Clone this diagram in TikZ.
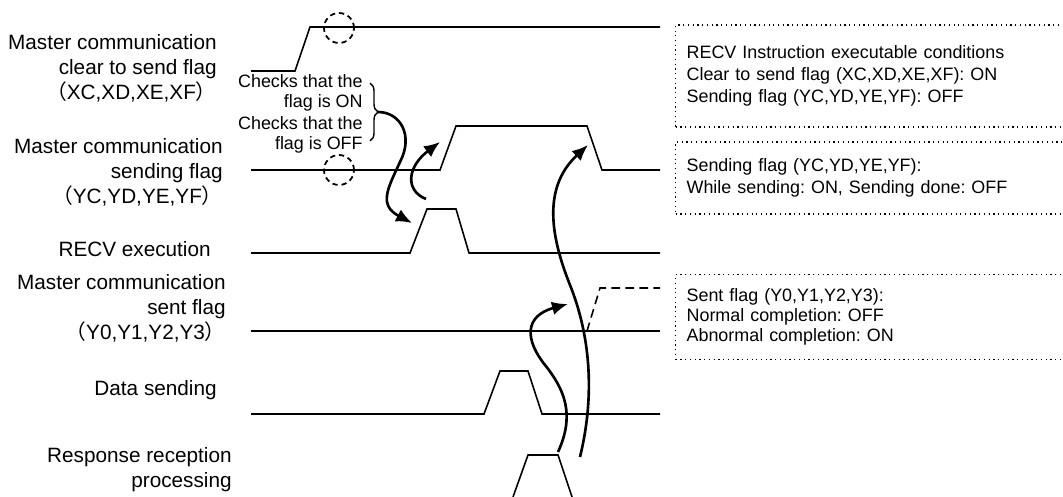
\documentclass[tikz,border=0pt]{standalone}
\usepackage{fontspec}
\setmainfont{Liberation Sans}
\newfontfamily\cjk{Noto Sans CJK JP}
\usetikzlibrary{arrows.meta, positioning, decorations.pathreplacing}
\frenchspacing

\begin{document}
\begin{tikzpicture}[
    x=0.02cm, y=-0.02cm,
    >={Latex[length=0.32cm, width=0.27cm]},
    signal/.style={line width=0.9pt},
    flow/.style={->, line width=1.5pt},
    label/.style={anchor=east, align=right, inner sep=0pt, font=\fontsize{11.8}{14.2}\selectfont},
    check/.style={anchor=east, align=right, inner sep=0pt, font=\fontsize{10.2}{11.4}\selectfont},
    note/.style={draw, dotted, line width=0.7pt, anchor=west, align=left, text width=7.5cm,
        inner xsep=0.22cm, font=\fontsize{10.2}{12.5}\selectfont},
    probe/.style={draw, circle, dashed, dash pattern=on 3pt off 2.2pt, line width=1pt, minimum size=0.6cm, inner sep=0pt}
]
\useasboundingbox (0,0) rectangle (1063,497);
\clip (0,0) rectangle (1063,497);

% signal names
\node[label] (cts) at (217,68) {Master communication\\clear to send flag\\{\cjk （}XC,XD,XE,XF{\cjk ）}};
\node[label] (sending) at (223,172) {Master communication\\sending flag\\{\cjk （}YC,YD,YE,YF{\cjk ）}};
\node[label] (recv) at (211,249) {RECV execution};
\node[label] (sent) at (226,308) {Master communication\\sent flag\\{\cjk （}Y0,Y1,Y2,Y3{\cjk ）}};
\node[label] (data) at (217,390) {Data sending};
\node[label] (resp) at (232,470) {Response reception\\processing};

% waveforms
\draw[signal] (251,71) -- (295,71) -- (310,27) -- (660,27);
\draw[signal] (251,170) -- (440,170) -- (456,126) -- (587,126) -- (602,170) -- (660,170);
\draw[signal] (251,253) -- (410,253) -- (427,209) -- (456,209) -- (469,253) -- (660,253);
\draw[signal] (251,331) -- (660,331);
\draw[signal, dashed, dash pattern=on 5pt off 3pt] (587,331) -- (600,288) -- (660,288);
\draw[signal] (251,414) -- (484,414) -- (500,371) -- (528,371) -- (542,414) -- (660,414);
\draw[signal] (513,497) -- (528,455) -- (558,455) -- (572,497);

% flag checks
\node[probe] (probeon) at (339,28) {};
\node[probe] (probeoff) at (339,170) {};
\node[check] (chkon) at (363,93) {Checks that the\\flag is ON};
\node[check, below=0.08cm of chkon.south east, anchor=north east] (chkoff) {Checks that the\\flag is OFF};
\coordinate (bracetop) at (370,83);
\coordinate (bracebot) at (370,141);
\coordinate (cusp) at (378,112);
\draw[line width=0.8pt, decorate, decoration={brace, amplitude=0.16cm}] (bracetop) -- (bracebot);

% arrows
\coordinate (recvrise) at (412,223);
\coordinate (recvtop) at (426,199);
\coordinate (sendrise) at (440,142);
\coordinate (resptop) at (580,457);
\coordinate (sendfall) at (588,145);
\coordinate (respedge) at (558,452);
\coordinate (sentrise) at (568,304);
\draw[flow] (cusp) .. controls (400,112) and (414,135) .. (400,162) .. controls (388,188) and (378,205) .. (recvrise);
\draw[flow] (recvtop) .. controls (404,190) and (408,166) .. (sendrise);
\draw[flow] (resptop) .. controls (594,400) and (592,340) .. (570,285) .. controls (548,230) and (545,185) .. (sendfall);
\draw[flow] (respedge) .. controls (575,415) and (565,390) .. (545,365) .. controls (525,340) and (524,316) .. (sentrise);

% notes
\node[note, minimum height=2.04cm] (cond) at (675,76) {RECV Instruction executable conditions\\Clear to send flag (XC,XD,XE,XF): ON\\Sending flag (YC,YD,YE,YF): OFF};
\node[note, minimum height=1.44cm] (sendnote) at (675,178) {Sending flag (YC,YD,YE,YF):\\While sending: ON, Sending done: OFF};
\node[note, minimum height=1.7cm, font=\fontsize{10.2}{11.4}\selectfont] (sentnote) at (675,317) {Sent flag (Y0,Y1,Y2,Y3):\\Normal completion: OFF\\Abnormal completion: ON};

\end{tikzpicture}
\end{document}
